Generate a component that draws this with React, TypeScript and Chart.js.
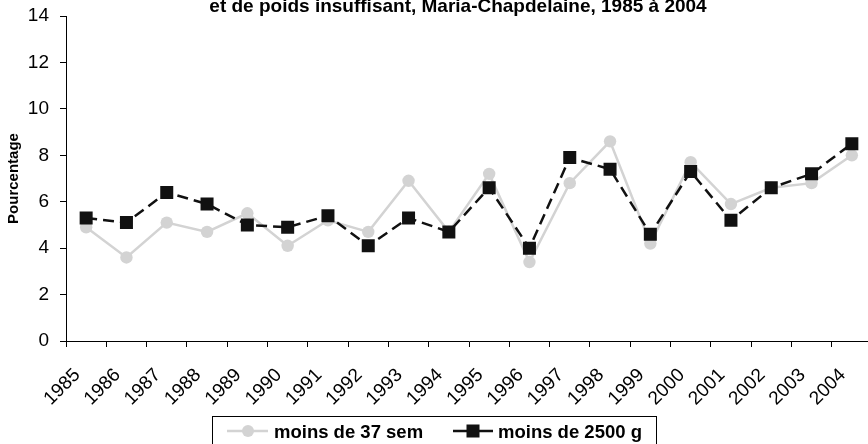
import React, { useEffect, useRef } from "react";
import { Chart, registerables } from "chart.js";

Chart.register(...registerables);

const years = ["1985", "1986", "1987", "1988", "1989", "1990", "1991", "1992", "1993", "1994", "1995", "1996", "1997", "1998", "1999", "2000", "2001", "2002", "2003", "2004"];
const moins37sem = [4.9, 3.6, 5.1, 4.7, 5.5, 4.1, 5.2, 4.7, 6.9, 4.7, 7.2, 3.4, 6.8, 8.6, 4.2, 7.7, 5.9, 6.6, 6.8, 8.0];
const moins2500g = [5.3, 5.1, 6.4, 5.9, 5.0, 4.9, 5.4, 4.1, 5.3, 4.7, 6.6, 4.0, 7.9, 7.4, 4.6, 7.3, 5.2, 6.6, 7.2, 8.5];
const yMin = 0;
const yMax = 14;
const yStep = 2;
const titleText = "et de poids insuffisant, Maria-Chapdelaine, 1985 à 2004";
const yAxisTitle = "Pourcentage";
const legendLabels = ["moins de 37 sem", "moins de 2500 g"];

const FONT = "'Liberation Sans', Arial, Helvetica, sans-serif";
const GRAY = "#d3d3d3";
const BLACK = "#111111";

const titlePlugin = {
  id: "topTitle",
  afterDraw(chart: any) {
    const ctx = chart.ctx;
    ctx.save();
    ctx.font = `bold 19px ${FONT}`;
    ctx.fillStyle = "#000";
    ctx.textAlign = "center";
    ctx.textBaseline = "alphabetic";
    ctx.fillText(titleText, 458, 12);
    ctx.restore();
  },
};

const legendPlugin = {
  id: "boxLegend",
  afterDraw(chart: any) {
    const ctx = chart.ctx;
    ctx.save();
    ctx.fillStyle = "#fff";
    ctx.fillRect(212.5, 416.5, 444, 40);
    ctx.strokeStyle = "#000";
    ctx.lineWidth = 1;
    ctx.strokeRect(212.5, 416.5, 444, 40);
    const y = 431;
    ctx.strokeStyle = GRAY;
    ctx.lineWidth = 2.5;
    ctx.beginPath();
    ctx.moveTo(227, y);
    ctx.lineTo(268, y);
    ctx.stroke();
    ctx.fillStyle = GRAY;
    ctx.beginPath();
    ctx.arc(248, y, 6, 0, Math.PI * 2);
    ctx.fill();
    ctx.strokeStyle = BLACK;
    ctx.lineWidth = 2.5;
    ctx.beginPath();
    ctx.moveTo(453, y);
    ctx.lineTo(493, y);
    ctx.stroke();
    ctx.fillStyle = BLACK;
    ctx.fillRect(473 - 6.5, y - 6.5, 13, 13);
    ctx.fillStyle = "#000";
    ctx.font = `bold 18.5px ${FONT}`;
    ctx.textAlign = "left";
    ctx.textBaseline = "alphabetic";
    ctx.fillText(legendLabels[0], 274, 438);
    ctx.fillText(legendLabels[1], 498, 438);
    ctx.restore();
  },
};

export default function App() {
  const ref = useRef<HTMLCanvasElement | null>(null);

  useEffect(() => {
    document.body.style.overflow = "hidden";
    const canvas = ref.current;
    if (!canvas) return;
    const chart = new Chart(canvas, {
      type: "line",
      data: {
        labels: years,
        datasets: [
          {
            label: legendLabels[0],
            data: moins37sem,
            borderColor: GRAY,
            backgroundColor: GRAY,
            borderWidth: 2.5,
            pointStyle: "circle",
            pointRadius: 6.2,
            pointBorderWidth: 0,
            pointBackgroundColor: GRAY,
            tension: 0,
            order: 1,
          },
          {
            label: legendLabels[1],
            data: moins2500g,
            borderColor: BLACK,
            backgroundColor: BLACK,
            borderWidth: 2.5,
            borderDash: [11, 6],
            pointStyle: "rect",
            pointRadius: 9.2,
            pointBorderWidth: 0,
            pointBackgroundColor: BLACK,
            tension: 0,
            order: 0,
          },
        ],
      },
      options: {
        responsive: false,
        animation: false,
        devicePixelRatio: 1,
        layout: { autoPadding: false, padding: { top: 16, left: 0, right: 2, bottom: 0 } },
        plugins: {
          legend: { display: false },
          title: { display: false },
          tooltip: { enabled: false },
        },
        scales: {
          x: {
            type: "category",
            offset: true,
            grid: { display: true, offset: true, drawOnChartArea: false, drawTicks: true, tickLength: 6, color: "#000", lineWidth: 1 },
            border: { display: true, color: "#000", width: 1 },
            ticks: {
              autoSkip: false,
              maxRotation: 45,
              minRotation: 45,
              color: "#000",
              font: { family: FONT, size: 19 },
              padding: 17,
              labelOffset: -9,
            },
            afterFit(scale: any) {
              scale.height = 103;
              scale.paddingLeft = 0;
              scale.paddingRight = 0;
            },
          },
          y: {
            min: yMin,
            max: yMax,
            grid: { display: true, drawOnChartArea: false, drawTicks: true, tickLength: 6, color: "#000", lineWidth: 1 },
            border: { display: true, color: "#000", width: 1 },
            ticks: {
              stepSize: yStep,
              color: "#000",
              font: { family: FONT, size: 19 },
              padding: 11,
            },
            title: {
              display: true,
              text: yAxisTitle,
              color: "#000",
              font: { family: FONT, size: 15, weight: "bold" },
              padding: { top: 5, bottom: 0 },
            },
            afterFit(scale: any) {
              scale.width = 66;
              scale.paddingTop = 0;
              scale.paddingBottom = 0;
            },
          },
        },
      },
      plugins: [titlePlugin, legendPlugin],
    } as any);
    return () => chart.destroy();
  }, []);

  return (
    <div style={{ position: "fixed", left: 0, top: 0, width: 874, height: 444, overflow: "hidden", background: "#fff" }}>
      <canvas ref={ref} width={874} height={444} style={{ display: "block" }} />
    </div>
  );
}
